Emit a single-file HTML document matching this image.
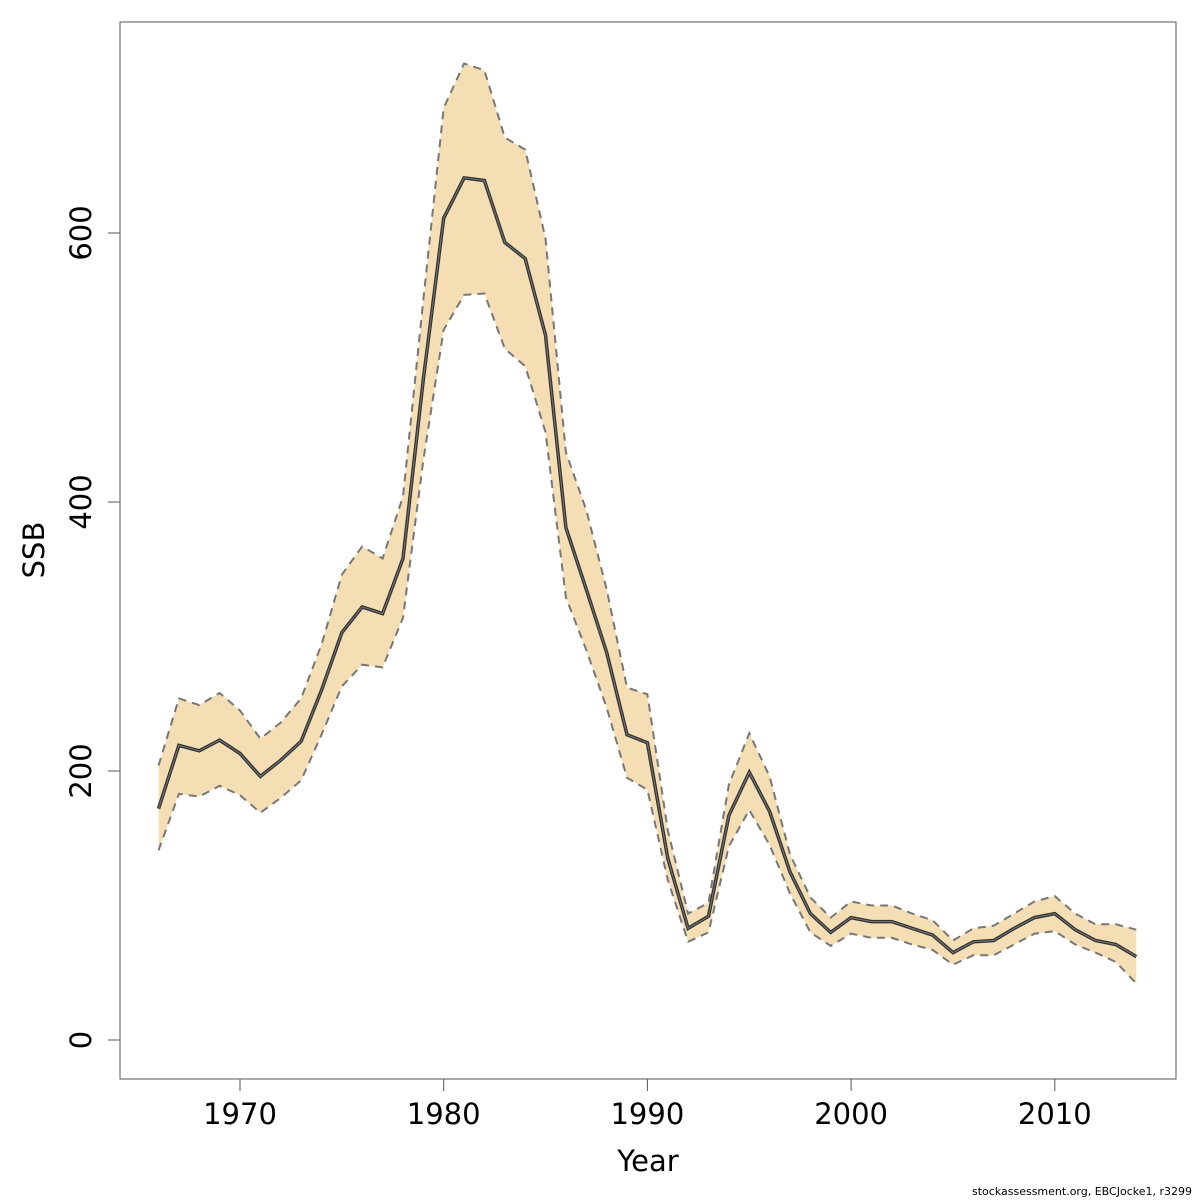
<!DOCTYPE html>
<html><head><meta charset="utf-8"><style>
html,body{margin:0;padding:0;background:#fff;}
svg{display:block;font-family:"DejaVu Sans","Liberation Sans",sans-serif;}
</style></head><body>
<svg id="chart" width="1200" height="1200" viewBox="0 0 1200 1200">
<rect x="120" y="22" width="1056" height="1057" fill="none" stroke="#555" stroke-width="1"/>
<g id="band"></g>
<g id="xaxis"></g>
<g id="yaxis"></g>
<text x="648" y="1171" font-size="29" text-anchor="middle">Year</text>
<text transform="translate(44,550) rotate(-90)" font-size="29" text-anchor="middle">SSB</text>
<text x="1192" y="1195" font-size="11" text-anchor="end">stockassessment.org, EBCJocke1, r3299</text>
</svg>
<script>
const years = [];
for (let y = 1966; y <= 2014; y++) years.push(y);
const ssb = [172,219,215,223,213,196,208,222,260,303,322,317,358,491,611,641,639,593,581,524,381,335,288,227,221,135,83,92,167,199,170,125,94,80,91,88,88,83,78,65,73,74,83,91,94,82,74,71,62];
const upper = [204,254,249,258,245,224,236,254,294,346,367,358,404,550,693,726,721,671,662,596,437,394,335,262,257,156,94,102,190,228,196,138,106,91,103,100,100,94,89,74,83,85,94,103,107,94,86,86,82];
const lower = [141,183,181,189,182,169,180,193,227,263,279,277,314,431,528,554,555,514,501,452,329,290,247,195,186,119,73,80,144,171,145,109,80,70,79,76,76,71,67,56,63,63,71,79,81,71,65,58,42];
const xTicks = [1970,1980,1990,2000,2010];
const yTicks = [0,200,400,600];

function sx(y){ return 240 + (y - 1970) * 20.37; }
function sy(v){ return 1040 - v * 1.345; }
const NS = "http://www.w3.org/2000/svg";
const band = document.getElementById('band');
function pts(arr){ return arr.map((v,i)=>sx(years[i]).toFixed(1)+','+sy(v).toFixed(1)).join(' '); }

const poly = document.createElementNS(NS,'polygon');


const rev = lower.map((v,i)=>sx(years[i]).toFixed(1)+','+sy(v).toFixed(1)).reverse().join(' ');
poly.setAttribute('points', pts(upper) + ' ' + rev);
poly.setAttribute('fill', '#f5deb3');
band.appendChild(poly);

function line(arr, name, stroke, w, dash){
  const p = document.createElementNS(NS,'polyline');
  
  
  p.setAttribute('points', pts(arr));
  p.setAttribute('fill', 'none');
  p.setAttribute('stroke', stroke);
  p.setAttribute('stroke-width', w);
  if (dash) p.setAttribute('stroke-dasharray', dash);
  band.appendChild(p);
}
line(upper, 'upper-bound-line', '#777', 2, '8,6');
line(lower, 'lower-bound-line', '#777', 2, '8,6');
line(ssb, 'ssb-line-outer', '#333', 3.5);
line(ssb, 'ssb-line', '#777', 1);

const xa = document.getElementById('xaxis');
xTicks.forEach(t=>{
  const l = document.createElementNS(NS,'line');
  
  
  l.setAttribute('x1', sx(t)); l.setAttribute('x2', sx(t));
  l.setAttribute('y1', 1079); l.setAttribute('y2', 1091);
  l.setAttribute('stroke', '#555');
  xa.appendChild(l);
  const tx = document.createElementNS(NS,'text');
  
  
  tx.setAttribute('x', sx(t)); tx.setAttribute('y', 1124);
  tx.setAttribute('font-size', '29'); tx.setAttribute('text-anchor', 'middle');
  tx.textContent = t;
  xa.appendChild(tx);
});
const ya = document.getElementById('yaxis');
yTicks.forEach(t=>{
  const l = document.createElementNS(NS,'line');
  
  
  l.setAttribute('x1', 108); l.setAttribute('x2', 120);
  l.setAttribute('y1', sy(t)); l.setAttribute('y2', sy(t));
  l.setAttribute('stroke', '#555');
  ya.appendChild(l);
  const tx = document.createElementNS(NS,'text');
  
  
  tx.setAttribute('transform', 'translate(91,' + sy(t) + ') rotate(-90)');
  tx.setAttribute('font-size', '29'); tx.setAttribute('text-anchor', 'middle');
  tx.textContent = t;
  ya.appendChild(tx);
});
</script>
</body></html>
